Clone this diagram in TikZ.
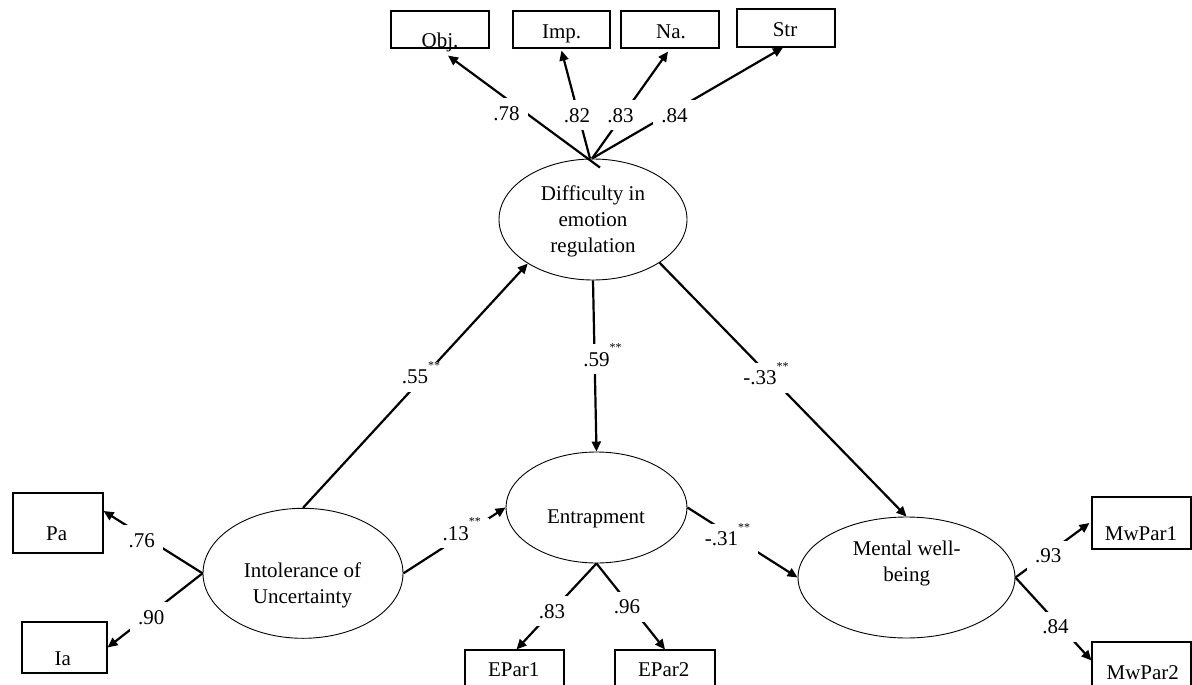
\documentclass[tikz,border=0pt]{standalone}
\usepackage{fontspec}
\setmainfont{Liberation Serif}
\usetikzlibrary{arrows.meta,shapes.geometric}
\newcommand{\sigstars}{\raisebox{14.5pt}{\fontsize{12}{12}\selectfont **}}
\begin{document}
\begin{tikzpicture}[x=1pt,y=-1pt,
  every node/.style={font=\fontsize{21}{26}\selectfont},
  obs/.style={draw, line width=1.1pt, inner sep=0pt},
  lat/.style={draw, ellipse, line width=0.9pt, inner sep=0pt},
  arr/.style={line width=2.2pt, -{Triangle[length=10pt,width=9pt]}},
  lbl/.style={fill=white, text height=14pt, text depth=0pt, inner xsep=8pt, inner ysep=8pt},
  txt/.style={text height=14pt, text depth=0pt, inner sep=0pt},
  ltxt/.style={align=center, inner sep=0pt}]
\useasboundingbox (0,0) rectangle (1192,685);
\clip (0,0) rectangle (1192,685);

% observed indicator boxes
\node[obs, minimum width=98pt, minimum height=37pt] (objbox) at (440,29.5) {};
\node[obs, minimum width=97pt, minimum height=37pt] (impbox) at (561.5,29.5) {};
\node[obs, minimum width=98pt, minimum height=37pt] (nabox) at (670,29.5) {};
\node[obs, minimum width=98pt, minimum height=38pt] (strbox) at (786,28) {};
\node[obs, minimum width=90pt, minimum height=60pt] (pabox) at (58,523) {};
\node[obs, minimum width=85pt, minimum height=51pt] (iabox) at (64.5,647.5) {};
\node[obs, minimum width=99pt, minimum height=50pt] (e1box) at (514.5,675) {};
\node[obs, minimum width=100pt, minimum height=50pt] (e2box) at (665,675) {};
\node[obs, minimum width=99pt, minimum height=52pt] (mw1box) at (1141.5,523) {};
\node[obs, minimum width=99pt, minimum height=58pt] (mw2box) at (1141.5,671) {};

% latent variables
\node[lat, minimum width=188pt, minimum height=121pt] (der) at (593,219.5) {};
\node[lat, minimum width=200pt, minimum height=130pt] (iu) at (303,573.3) {};
\node[lat, minimum width=181pt, minimum height=111pt] (ent) at (596.5,507.5) {};
\node[lat, minimum width=217pt, minimum height=121pt] (mw) at (906.5,577.5) {};

% loadings of difficulty in emotion regulation
\draw[arr] ([xshift=7pt,yshift=-9pt]der.north) -- ([xshift=8pt,yshift=-7pt]objbox.south);
\draw[arr] ([xshift=-3pt]der.north) -- ([yshift=-2pt]impbox.south);
\draw[arr] ([xshift=-1pt]der.north) -- ([xshift=-2pt,yshift=-3pt]nabox.south);
\draw[arr] ([xshift=-1pt]der.north) -- ([xshift=-3pt]strbox.south);

% structural paths
\draw[arr] (iu.north) -- (der.214.6);
\draw[arr] (der.south) -- (ent.north);
\draw[arr] (der.327) -- (mw.north);
\draw[arr] (iu.east) -- (ent.west);
\draw[arr] (ent.east) -- (mw.west);

% other loadings
\draw[arr] (iu.west) -- ([yshift=12pt]pabox.east);
\draw[arr] (iu.west) -- (iabox.east);
\draw[arr] (ent.south) -- ([xshift=2pt]e1box.north);
\draw[arr] (ent.south) -- (e2box.north);
\draw[arr] (mw.east) -- ([xshift=-2pt]mw1box.west);
\draw[arr] (mw.east) -- ([yshift=-19pt]mw2box.north west);

% coefficient labels
\node[lbl] (l78) at (506.5,113.3) {.78};
\node[lbl] (l82) at (577,115) {.82};
\node[lbl, inner xsep=4pt] (l83) at (620.5,115) {.83};
\node[lbl] (l84) at (674.5,115) {.84};
\node[lbl] (l55) at (421,376.7) {.55\sigstars};
\node[lbl] (l59) at (602.4,359) {.59\sigstars};
\node[lbl] (l33) at (765.9,377.5) {-.33\sigstars};
\node[lbl] (l13) at (461.8,533.3) {.13\sigstars};
\node[lbl] (l31) at (727.6,538.8) {-.31\sigstars};
\node[lbl] (l76) at (141.7,540) {.76};
\node[lbl] (l90) at (151.3,617) {.90};
\node[lbl] (l83b) at (552,611) {.83};
\node[lbl] (l96) at (627,606.7) {.96};
\node[lbl] (l93) at (1048.3,555.8) {.93};
\node[lbl] (l84b) at (1055.5,626.7) {.84};

% texts
\node[txt] (objt) at (440,41) {Obj.};
\node[txt] (impt) at (561.7,32) {Imp.};
\node[txt] (nat) at (671,32) {Na.};
\node[txt] (strt) at (785,29.5) {Str};
\node[txt] (pat) at (56.7,533.8) {Pa};
\node[txt] (iat) at (62.8,658) {Ia};
\node[txt] (e1t) at (513.8,669.7) {EPar1};
\node[txt] (e2t) at (663.8,669.7) {EPar2};
\node[txt] (mw1t) at (1141,533) {MwPar1};
\node[txt] (mw2t) at (1142.8,672) {MwPar2};
\node[ltxt] (dert) at (593,221.2) {Difficulty in\\emotion\\regulation};
\node[ltxt] (iut) at (302.5,585.5) {Intolerance of\\Uncertainty};
\node[txt] (entt) at (596,516.3) {Entrapment};
\node[ltxt] (mwt) at (906.7,563) {Mental well-\\being};
\end{tikzpicture}
\end{document}
